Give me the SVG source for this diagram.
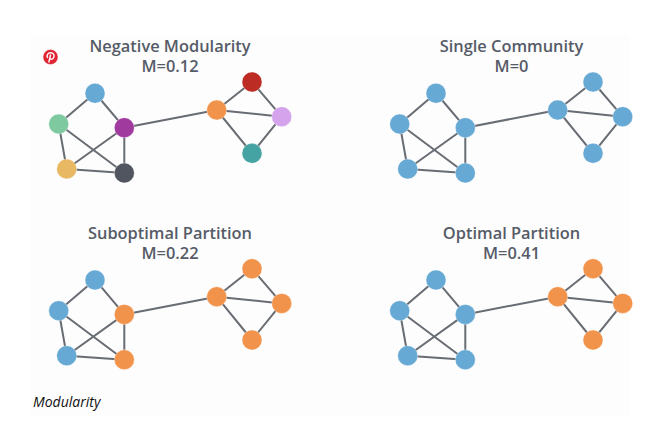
<svg xmlns="http://www.w3.org/2000/svg" xmlns:xlink="http://www.w3.org/1999/xlink" width="663" height="424" viewBox="0 0 663 424">
<style>
.e{stroke:#686c73;stroke-width:2;fill:none}
.t{font-family:"Open Sans","Noto Sans",sans-serif;font-size:16.400px;font-weight:600;fill:#565b68;text-anchor:middle}
.c{font-family:"Open Sans","Noto Sans",sans-serif;font-size:14px;font-style:italic;fill:#111}
.b{fill:#65a9d4}.o{fill:#f2934c}
circle{stroke:#fff;stroke-width:.6;stroke-opacity:.6}
</style>
<defs>
<g id="edges" class="e">
<path d="M95 93 58.700 124M95 93 124.300 127.700M58.700 124 66.700 169M58.700 124 124.300 173M124.300 127.700 66.700 169M124.300 127.700 124.300 173M66.700 169 124.300 173M124.300 127.700 216.700 110M216.700 110 252 82M216.700 110 281.700 116.700M216.700 110 252 153.300M252 82 281.700 116.700M281.700 116.700 252 153.300"/>
</g>
</defs>
<rect width="663" height="424" fill="#fff"/>
<rect x="30" y="36" width="600" height="379" fill="#fdfdfd"/>
<g id="connectors">
<use xlink:href="#edges" href="#edges"/>
<use xlink:href="#edges" href="#edges" x="341"/>
<use xlink:href="#edges" href="#edges" y="186.700"/>
<use xlink:href="#edges" href="#edges" x="341" y="186.700"/>
</g>
<g id="pinterest-icon">
<circle cx="50.500" cy="57" r="7.500" fill="#e02433" stroke="none"/>
<path d="M48.800 62.500 50.600 54.500M47.600 58C46 55 48 52.800 50.700 52.800C53.500 52.800 54.600 55 53.800 57.300C53.100 59.300 50.800 59.800 49.900 58.300" fill="none" stroke="#fff" stroke-width="1.400"/>
</g>
<g id="titles">
<text class="t" y="51.500"><tspan x="170">Negative Modularity</tspan><tspan x="170" dy="20">M=0.12</tspan></text>
<text class="t" y="51.500"><tspan x="511.500">Single Community</tspan><tspan x="511.500" dy="20">M=0</tspan></text>
<text class="t" y="238.500"><tspan x="170">Suboptimal Partition</tspan><tspan x="170" dy="20">M=0.22</tspan></text>
<text class="t" y="238.500"><tspan x="511.500">Optimal Partition</tspan><tspan x="511.500" dy="20">M=0.41</tspan></text>
</g>
<g id="p1">
<circle id="p1a" cx="95" cy="93.300" r="10" fill="#65a9d4"/>
<circle id="p1b" cx="58.700" cy="124" r="10" fill="#7fc9a1"/>
<circle id="p1c" cx="124.300" cy="127.700" r="10" fill="#a03a9f"/>
<circle id="p1d" cx="66.700" cy="169" r="10" fill="#e9b863"/>
<circle id="p1e" cx="124.300" cy="173" r="10" fill="#51555f"/>
<circle id="p1f" cx="216.700" cy="110" r="10" fill="#f2934c"/>
<circle id="p1g" cx="252" cy="82" r="10" fill="#bc2c24"/>
<circle id="p1h" cx="281.700" cy="116.700" r="10" fill="#d5a3ec"/>
<circle id="p1i" cx="252" cy="153.300" r="10" fill="#46a3a3"/>
</g>
<g id="p2" class="b">
<circle cx="436" cy="93.300" r="10"/><circle cx="399.700" cy="124" r="10"/><circle cx="465.300" cy="127.700" r="10"/><circle cx="407.700" cy="169" r="10"/><circle cx="465.300" cy="173" r="10"/><circle cx="557.700" cy="110" r="10"/><circle cx="593" cy="82" r="10"/><circle cx="622.700" cy="116.700" r="10"/><circle cx="593" cy="153.300" r="10"/>
</g>
<g id="p3">
<g class="b"><circle cx="95" cy="280" r="10"/><circle cx="58.700" cy="310.700" r="10"/><circle cx="66.700" cy="355.700" r="10"/></g>
<g class="o"><circle cx="124.300" cy="314.400" r="10"/><circle cx="124.300" cy="359.700" r="10"/><circle cx="216.700" cy="296.700" r="10"/><circle cx="252" cy="268.700" r="10"/><circle cx="281.700" cy="303.400" r="10"/><circle cx="252" cy="340" r="10"/></g>
</g>
<g id="p4">
<g class="b"><circle cx="436" cy="280" r="10"/><circle cx="399.700" cy="310.700" r="10"/><circle cx="407.700" cy="355.700" r="10"/><circle cx="465.300" cy="314.400" r="10"/><circle cx="465.300" cy="359.700" r="10"/></g>
<g class="o"><circle cx="557.700" cy="296.700" r="10"/><circle cx="593" cy="268.700" r="10"/><circle cx="622.700" cy="303.400" r="10"/><circle cx="593" cy="340" r="10"/></g>
</g>
<text id="caption" class="c" x="33" y="407">Modularity</text>
</svg>
